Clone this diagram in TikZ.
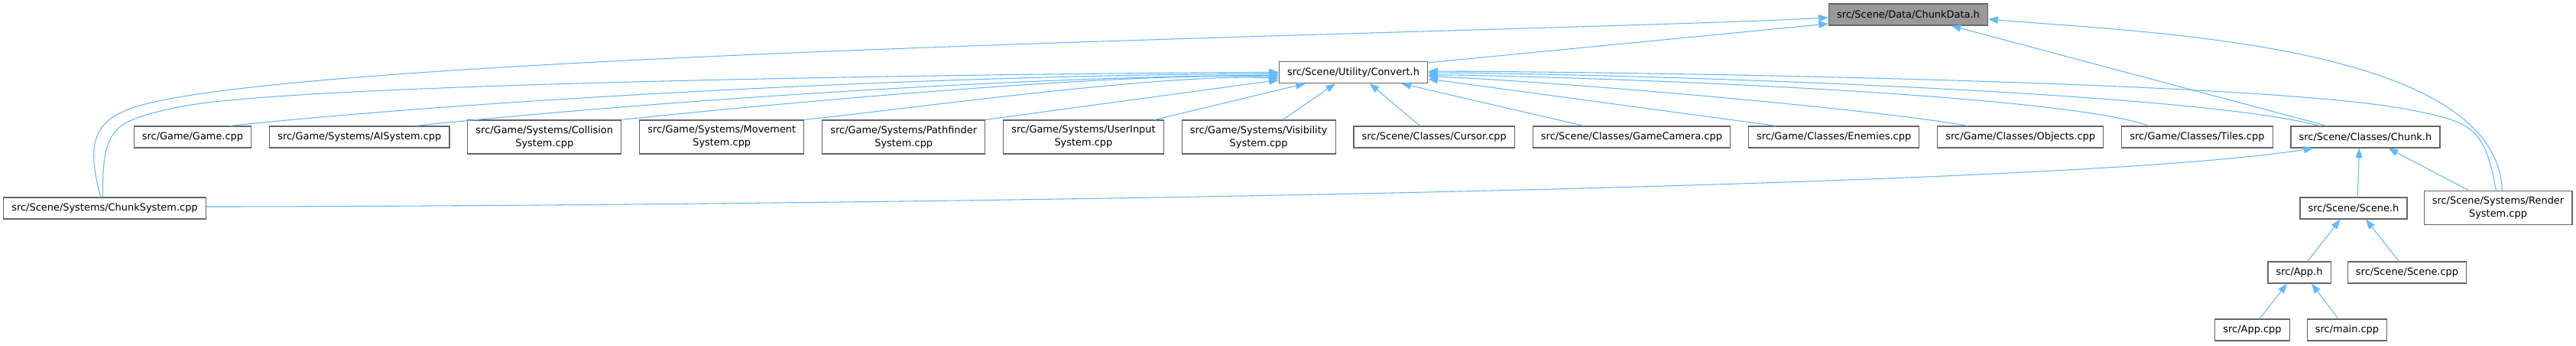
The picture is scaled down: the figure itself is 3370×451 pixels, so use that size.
\documentclass[tikz,border=0pt]{standalone}
\usepackage{fontspec}
\setmainfont{DejaVu Sans}
\usetikzlibrary{positioning}
\usetikzlibrary{arrows.meta}
\definecolor{edgeblue}{HTML}{63B8FF}
\definecolor{boxline}{HTML}{666666}
\definecolor{boxfill}{HTML}{999999}

\begin{document}
\begin{tikzpicture}[x=0.75pt, y=0.75pt, node distance={17pt},
    file/.style = {draw=boxline, line width=0.9pt, fill=white, font=\fontsize{9.7pt}{12.75pt}\selectfont, inner xsep=8pt, inner ysep=2pt, minimum height=21pt, align=center},
    twoline/.style = {file, minimum height=33pt},
    inc/.style = {draw=edgeblue, line width=0.8pt, -{Triangle[length=9.5pt,width=7pt]}}]
    \useasboundingbox (0,0) rectangle (3370,451);
    \node[file, fill=boxfill] (1) at (2496.5,432) {src/Scene/Data/ChunkData.h};
    \node[file] (2) at (1770.5,356.5) {src/Scene/Utility/Convert.h};
    \node[file] (3) at (252,272) {src/Game/Game.cpp};
    \node[file] (4) [right=of 3] {src/Game/Systems/AISystem.cpp};
    \node[twoline] (5) [right=of 4] {src/Game/Systems/Collision\\System.cpp};
    \node[twoline] (6) [right=of 5] {src/Game/Systems/Movement\\System.cpp};
    \node[twoline] (7) [right=of 6] {src/Game/Systems/Pathfinder\\System.cpp};
    \node[twoline] (8) [right=of 7] {src/Game/Systems/UserInput\\System.cpp};
    \node[twoline] (9) [right=of 8] {src/Game/Systems/Visibility\\System.cpp};
    \node[file] (10) [right=of 9] {src/Scene/Classes/Cursor.cpp};
    \node[file] (11) [right=of 10] {src/Scene/Classes/GameCamera.cpp};
    \node[file] (12) [right=of 11] {src/Game/Classes/Enemies.cpp};
    \node[file] (13) [right=of 12] {src/Game/Classes/Objects.cpp};
    \node[file] (14) [right=of 13] {src/Game/Classes/Tiles.cpp};
    \node[file] (15) [right=of 14] {src/Scene/Classes/Chunk.h};
    \node[file] (16) at (137,179) {src/Scene/Systems/ChunkSystem.cpp};
    \node[file] (17) at (3079,179) {src/Scene/Scene.h};
    \node[twoline] (18) at (3268,179.5) {src/Scene/Systems/Render\\System.cpp};
    \node[file] (19) at (3008,95) {src/App.h};
    \node[file] (20) at (3149,95) {src/Scene/Scene.cpp};
    \node[file] (21) at (2946.5,20) {src/App.cpp};
    \node[file] (22) at (3070.5,20) {src/main.cpp};
    \draw[inc] ([yshift=-1.5pt]2.north east) -- ([yshift=-9pt]1.west);
    \draw[inc] ([xshift=-4pt]16.north) .. controls +(105:90) and +(-169:90) .. (217,321) .. controls +(11:341) and +(183:341) .. ([yshift=-3pt]1.west);
    \draw[inc] ([xshift=-38pt]15.north) -- ([xshift=42pt]1.south);
    \draw[inc] ([xshift=4pt]18.north) .. controls +(92:194) and +(-5:194) .. ([yshift=-4.5pt]1.east);
    \draw[inc] ([xshift=-2pt]16.north) .. controls +(90:90) and +(-168:90) .. (233,311) .. controls +(12:169) and +(180:169) .. (2.west);
    \draw[inc] ([xshift=37pt]3.north) .. controls +(6:375) and +(180:375) .. ([yshift=-1.5pt]2.west);
    \draw[inc] ([xshift=55pt]4.north) .. controls +(6:310) and +(180:310) .. ([yshift=-3pt]2.west);
    \draw[inc] (5.north east) .. controls +(6:202) and +(178:202) .. ([yshift=-4.5pt]2.west);
    \draw[inc] (6.north east) .. controls +(6:145) and +(177:145) .. ([yshift=-6pt]2.west);
    \draw[inc] (7.north east) -- ([yshift=-7.5pt]2.west);
    \draw[inc] ([xshift=70pt]8.north) -- ([xshift=-47pt]2.south);
    \draw[inc] ([xshift=23.6pt]9.north) -- ([xshift=-17.6pt]2.south);
    \draw[inc] ([xshift=-14pt]10.north) -- ([xshift=16pt]2.south);
    \draw[inc] ([xshift=-47pt]11.north) -- ([xshift=47pt]2.south);
    \draw[inc] ([xshift=-57pt]12.north) -- ([yshift=-6.4pt]2.east);
    \draw[inc] ([xshift=-52pt]13.north) .. controls +(170:141) and +(-2:141) .. ([yshift=-4pt]2.east);
    \draw[inc] ([xshift=-47.6pt]14.north) .. controls +(160:131) and +(0:131) .. ([yshift=-2.6pt]2.east);
    \draw[inc] ([xshift=-45pt]15.north) .. controls +(165:185) and +(0:185) .. ([yshift=-0.5pt]2.east);
    \draw[inc] ([xshift=-2pt]18.north) .. controls +(100:85) and +(-11:85) .. (3150,308) .. controls +(169:200) and +(0:200) .. ([yshift=1pt]2.east);
    \draw[inc] ([yshift=1.5pt]16.east) .. controls +(0:543) and +(189:380) .. ([xshift=-51pt]15.south);
    \draw[inc] ([xshift=4pt]17.north) -- ([xshift=-6pt]15.south);
    \draw[inc] ([xshift=-28.5pt]18.north) -- ([xshift=22.5pt]15.south);
    \draw[inc] ([xshift=8pt]19.north) -- ([xshift=-13pt]17.south);
    \draw[inc] ([xshift=-8pt]20.north) -- ([xshift=12pt]17.south);
    \draw[inc] ([xshift=7pt]21.north) -- ([xshift=-12pt]19.south);
    \draw[inc] ([xshift=-8.6pt]22.north) -- ([xshift=12pt]19.south);
\end{tikzpicture}
\end{document}
